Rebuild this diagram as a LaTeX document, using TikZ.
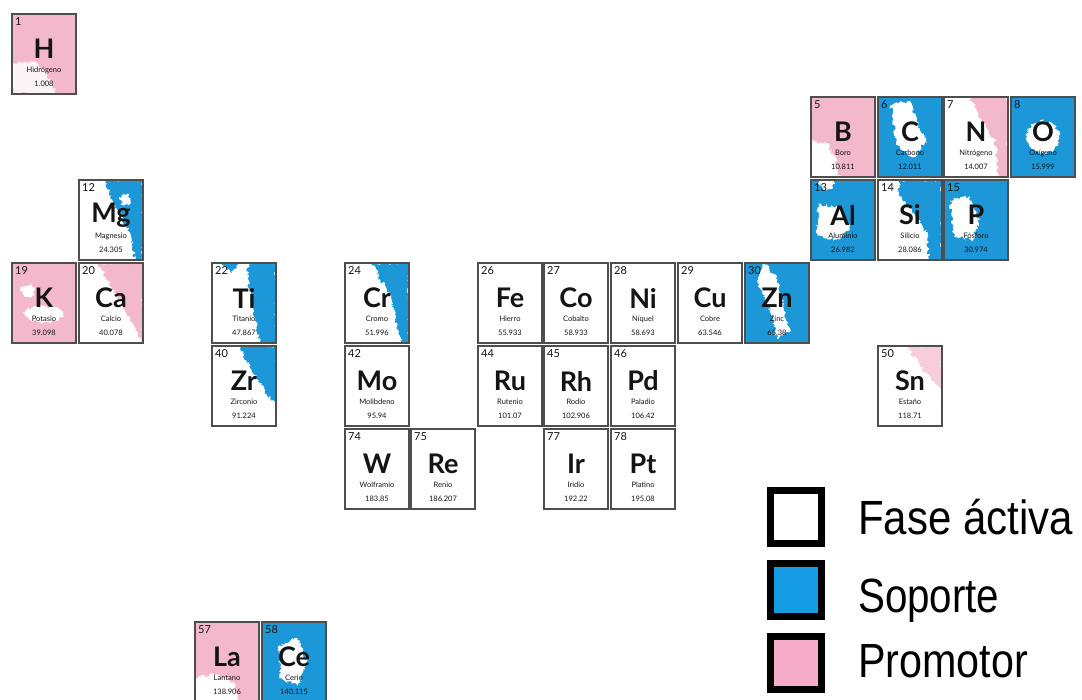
\documentclass[tikz,border=0pt]{standalone}
\usepackage{fontspec}
\usepackage{graphicx}
\setmainfont{Lato}
\newfontfamily\legfont{Liberation Sans}
\usetikzlibrary{decorations.pathmorphing}

\definecolor{supblue}{RGB}{28,152,216}
\definecolor{propink}{RGB}{244,184,204}
\definecolor{edgegray}{RGB}{78,78,78}
\definecolor{legblue}{RGB}{22,156,226}
\definecolor{legpink}{RGB}{246,172,200}
\definecolor{ink}{RGB}{20,20,20}

% paint inside one tile, in tile units (0..1 across, 0..1 down)
\newcommand\paint[3]{%
  \begin{scope}[shift={(#1,#2)},x=64pt,y=-80pt]
    \clip (0,0) rectangle (1,1);
    #3
  \end{scope}}

% one element tile: name, left, top, atomic number, symbol, Spanish name, mass
\newcommand\element[7]{%
  \node[cellbox] (#1) at (#2+32,#3+40) {};
  \node[numtext] (#1-z) at (#2+3,#3+3) {#4};
  \node[symtext] (#1-s) at (#2+32,#3+35) {#5};
  \node[nametext] (#1-l) at (#2+32,#3+56) {#6};
  \node[nametext] (#1-m) at (#2+32,#3+70) {#7};
}

\begin{document}
\begin{tikzpicture}[x=1pt,y=-1pt,
  cellbox/.style={draw=edgegray, line width=1.6pt, minimum width=64pt, minimum height=80pt, inner sep=0pt},
  numtext/.style={anchor=north west, inner sep=0pt, text=ink, font=\fontsize{11}{11}\selectfont},
  symtext/.style={inner sep=0pt, text=ink, font=\bfseries\fontsize{27}{27}\selectfont},
  nametext/.style={inner sep=0pt, text=ink, font=\fontsize{7.5}{7.5}\selectfont},
  rough/.style={decorate, decoration={random steps, segment length=1.6pt, amplitude=2pt}},
  legbox/.style={draw=black, line width=7pt, minimum width=51pt, minimum height=53pt, inner sep=0pt},
  legtext/.style={anchor=base west, inner sep=0pt, font=\legfont\fontsize{48}{48}\selectfont}]

\pgfmathsetseed{7}
\fill[white] (0,0) rectangle (1082,700);
\useasboundingbox (0,0) rectangle (1082,700);

% ---------- colour patches ----------
\paint{12}{14}{\fill[propink] (0,0) rectangle (1,1);
  \fill[white,rough,opacity=0.85] (0,0.62) -- (0.35,0.6) -- (0.55,0.75) -- (0.7,1) -- (0,1) -- cycle;}
\paint{79}{180}{\fill[supblue,rough] (0.42,0) -- (1,0) -- (1,1) -- (0.88,1) -- (0.82,0.72) -- (0.7,0.5) -- (0.55,0.3) -- (0.45,0.12) -- cycle;
  \fill[white,rough] (0.72,0.25) ellipse [x radius=0.08, y radius=0.06];}
\paint{12}{263}{\fill[propink] (0,0) rectangle (1,1);
  \fill[white,rough] (0.5,0.64) ellipse [x radius=0.3, y radius=0.1];
  \fill[white,rough] (0.25,0.35) ellipse [x radius=0.1, y radius=0.07];}
\paint{79}{263}{\fill[propink,rough] (0.3,0) -- (1,0) -- (1,1) -- (0.9,0.85) -- (0.7,0.55) -- (0.5,0.3) -- cycle;}
\paint{212}{263}{\fill[supblue,rough] (0.58,0) -- (1,0) -- (1,1) -- (0.75,1) -- (0.68,0.7) -- (0.6,0.4) -- (0.55,0.15) -- cycle;
  \fill[supblue,rough] (0.12,0) -- (0.42,0) -- (0.3,0.12) -- cycle;}
\paint{212}{346}{\fill[supblue,rough] (0.45,0) -- (1,0) -- (1,0.72) -- (0.85,0.6) -- (0.7,0.4) -- (0.55,0.2) -- cycle;}
\paint{345}{263}{\fill[supblue,rough] (0.42,0) -- (1,0) -- (1,1) -- (0.88,1) -- (0.78,0.65) -- (0.72,0.4) -- (0.55,0.2) -- cycle;}
\paint{745}{263}{\fill[supblue] (0,0) rectangle (1,1);
  \fill[white,rough] (0.3,0) -- (0.5,0.2) -- (0.6,0.55) -- (0.7,0.85) -- (0.5,0.95) -- (0.4,0.6) -- (0.2,0.25) -- cycle;}
\paint{811}{97}{\fill[propink] (0,0) rectangle (1,1);
  \fill[white,rough] (0,0.55) -- (0.25,0.58) -- (0.4,0.8) -- (0.45,1) -- (0,1) -- cycle;}
\paint{878}{97}{\fill[supblue] (0,0) rectangle (1,1);
  \fill[white,rough] (0.2,0.1) -- (0.5,0.05) -- (0.6,0.3) -- (0.75,0.55) -- (0.55,0.75) -- (0.3,0.6) -- cycle;}
\paint{944}{97}{\fill[propink,rough] (0.4,0) -- (1,0) -- (1,1) -- (0.85,1) -- (0.8,0.55) -- (0.6,0.3) -- cycle;}
\paint{1011}{97}{\fill[supblue] (0,0) rectangle (1,1);
  \fill[white,rough] (0.5,0.5) ellipse [x radius=0.25, y radius=0.2];}
\paint{811}{180}{\fill[supblue] (0,0) rectangle (1,1);
  \fill[white,rough] (0.1,0.3) -- (0.45,0.35) -- (0.6,0.6) -- (0.4,0.75) -- (0.1,0.7) -- cycle;
  \fill[white,rough] (0.25,0.05) ellipse [x radius=0.12, y radius=0.06];}
\paint{878}{180}{\fill[supblue,rough] (0.35,0) -- (1,0) -- (1,1) -- (0.8,1) -- (0.75,0.65) -- (0.5,0.35) -- (0.3,0.15) -- cycle;}
\paint{944}{180}{\fill[supblue] (0,0) rectangle (1,1);
  \fill[white,rough] (0.1,0.25) -- (0.4,0.2) -- (0.55,0.5) -- (0.45,0.75) -- (0.15,0.7) -- cycle;}
\paint{878}{346}{\fill[propink!70,rough] (0.45,0) -- (1,0) -- (1,0.55) -- (0.75,0.35) -- cycle;}
\paint{195}{622}{\fill[propink] (0,0) rectangle (1,1);
  \fill[white,rough] (0,0.7) -- (0.3,0.65) -- (0.6,0.75) -- (0.7,1) -- (0,1) -- cycle;}
\paint{262}{622}{\fill[supblue] (0,0) rectangle (1,1);
  \fill[white,rough] (0.25,0.3) -- (0.55,0.2) -- (0.7,0.5) -- (0.55,0.8) -- (0.3,0.7) -- cycle;}

% ---------- element tiles ----------
\element{H}{12}{14}{1}{H}{Hidrógeno}{1.008}
\element{Mg}{79}{180}{12}{Mg}{Magnesio}{24.305}
\element{K}{12}{263}{19}{K}{Potasio}{39.098}
\element{Ca}{79}{263}{20}{Ca}{Calcio}{40.078}
\element{Ti}{212}{263}{22}{Ti}{Titanio}{47.867}
\element{Zr}{212}{346}{40}{Zr}{Zirconio}{91.224}
\element{Cr}{345}{263}{24}{Cr}{Cromo}{51.996}
\element{Mo}{345}{346}{42}{Mo}{Molibdeno}{95.94}
\element{W}{345}{429}{74}{W}{Wolframio}{183.85}
\element{Re}{411}{429}{75}{Re}{Renio}{186.207}
\element{Fe}{478}{263}{26}{Fe}{Hierro}{55.933}
\element{Co}{544}{263}{27}{Co}{Cobalto}{58.933}
\element{Ni}{611}{263}{28}{Ni}{Níquel}{58.693}
\element{Cu}{678}{263}{29}{Cu}{Cobre}{63.546}
\element{Zn}{745}{263}{30}{Zn}{Zinc}{65.38}
\element{Ru}{478}{346}{44}{Ru}{Rutenio}{101.07}
\element{Rh}{544}{346}{45}{Rh}{Rodio}{102.906}
\element{Pd}{611}{346}{46}{Pd}{Paladio}{106.42}
\element{Ir}{544}{429}{77}{Ir}{Iridio}{192.22}
\element{Pt}{611}{429}{78}{Pt}{Platino}{195.08}
\element{B}{811}{97}{5}{B}{Boro}{10.811}
\element{C}{878}{97}{6}{C}{Carbono}{12.011}
\element{N}{944}{97}{7}{N}{Nitrógeno}{14.007}
\element{O}{1011}{97}{8}{O}{Oxígeno}{15.999}
\element{Al}{811}{180}{13}{Al}{Aluminio}{26.982}
\element{Si}{878}{180}{14}{Si}{Silicio}{28.086}
\element{P}{944}{180}{15}{P}{Fósforo}{30.974}
\element{Sn}{878}{346}{50}{Sn}{Estaño}{118.71}
\element{La}{195}{622}{57}{La}{Lantano}{138.906}
\element{Ce}{262}{622}{58}{Ce}{Cerio}{140.115}

% ---------- legend ----------
\node[legbox, fill=white]   (key-act) at (796,517) {};
\node[legbox, fill=legblue] (key-sup) at (796,590) {};
\node[legbox, fill=legpink] (key-pro) at (796,663) {};
\node[legtext] (lab-act) at (858,534) {\scalebox{0.875}[1]{Fase áctiva}};
\node[legtext] (lab-sup) at (858,612) {\scalebox{0.84}[1]{Soporte}};
\node[legtext] (lab-pro) at (858,677) {\scalebox{0.86}[1]{Promotor}};
\end{tikzpicture}
\end{document}
